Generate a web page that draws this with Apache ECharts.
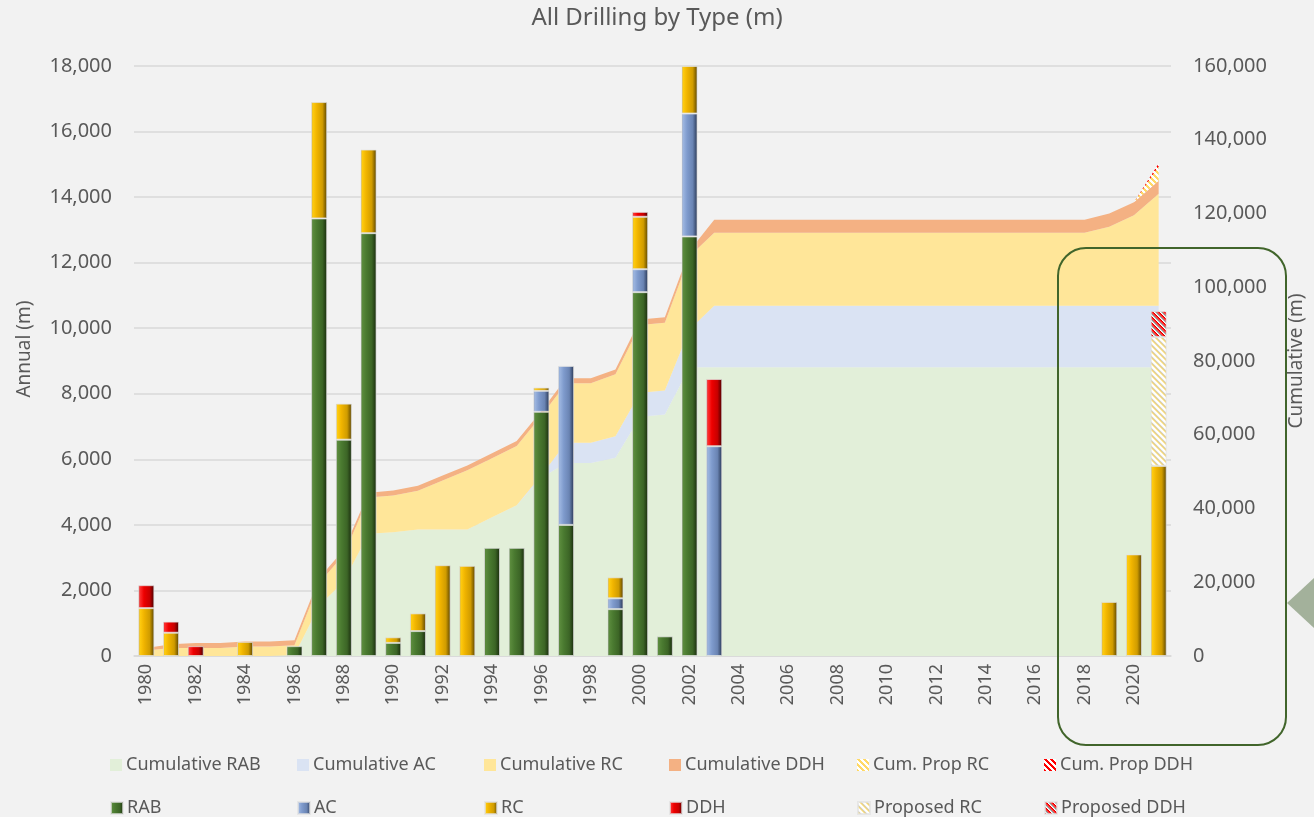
<!DOCTYPE html>
<html>
<head>
<meta charset="utf-8">
<title>All Drilling by Type</title>
<script src="https://cdn.jsdelivr.net/npm/echarts@6/dist/echarts.min.js"></script>
<style>
html, body { margin: 0; padding: 0; background: #f2f2f2; }
#chart { width: 1314px; height: 817px; }
</style>
</head>
<body>
<div id="chart"></div>
<script>
var years = ['1980','1981','1982','1983','1984','1985','1986','1987','1988','1989',
  '1990','1991','1992','1993','1994','1995','1996','1997','1998','1999',
  '2000','2001','2002','2003','2004','2005','2006','2007','2008','2009',
  '2010','2011','2012','2013','2014','2015','2016','2017','2018','2019',
  '2020','2021'];

// annual metres (left axis)
var rab = [0,0,0,0,0,0,300,13350,6600,12900, 400,760,0,0,3300,3300,7450,4000,0,1430,
  11100,600,12800,0,0,0,0,0,0,0, 0,0,0,0,0,0,0,0,0,0, 0,0];
var ac = [0,0,0,0,0,0,0,0,0,0, 0,0,0,0,0,0,640,4850,0,330,
  700,0,3750,6400,0,0,0,0,0,0, 0,0,0,0,0,0,0,0,0,0, 0,0];
var rc = [1460,710,0,0,430,0,0,3550,1100,2550, 170,540,2770,2750,0,0,100,0,0,640,
  1600,0,1450,0,0,0,0,0,0,0, 0,0,0,0,0,0,0,0,0,1650, 3100,5800];
var ddh = [700,340,300,0,0,0,0,0,0,0, 0,0,0,0,0,0,0,0,0,0,
  150,0,0,2050,0,0,0,0,0,0, 0,0,0,0,0,0,0,0,0,0, 0,0];
var propRC = [0,0,0,0,0,0,0,0,0,0, 0,0,0,0,0,0,0,0,0,0,
  0,0,0,0,0,0,0,0,0,0, 0,0,0,0,0,0,0,0,0,0, 0,3930];
var propDDH = [0,0,0,0,0,0,0,0,0,0, 0,0,0,0,0,0,0,0,0,0,
  0,0,0,0,0,0,0,0,0,0, 0,0,0,0,0,0,0,0,0,0, 0,790];

// cumulative metres (right axis)
var cumRAB = [0,0,0,0,0,0,300,13650,20250,33150, 33550,34310,34310,34310,37610,40910,48360,52360,52360,53790,
  64890,65490,78290,78290,78290,78290,78290,78290,78290,78290, 78290,78290,78290,78290,78290,78290,78290,78290,78290,78290, 78290,78290];
var cumAC = [0,0,0,0,0,0,0,0,0,0, 0,0,0,0,0,0,640,5490,5490,5820,
  6520,6520,10270,16670,16670,16670,16670,16670,16670,16670, 16670,16670,16670,16670,16670,16670,16670,16670,16670,16670, 16670,16670];
var cumRC = [1460,2170,2170,2170,2600,2600,2600,6150,7250,9800, 9970,10510,13280,16030,16030,16030,16130,16130,16130,16770,
  18370,18370,19820,19820,19820,19820,19820,19820,19820,19820, 19820,19820,19820,19820,19820,19820,19820,19820,19820,21470, 24570,30370];
var cumDDH = [700,1040,1340,1340,1340,1340,1340,1340,1340,1340, 1340,1340,1340,1340,1340,1340,1340,1340,1340,1340,
  1490,1490,1490,3540,3540,3540,3540,3540,3540,3540, 3540,3540,3540,3540,3540,3540,3540,3540,3540,3540, 3540,3540];
var cumPropRC = [null,null,null,null,null,null,null,null,null,null, null,null,null,null,null,null,null,null,null,null,
  null,null,null,null,null,null,null,null,null,null, null,null,null,null,null,null,null,null,null,null, 0,3930];
var cumPropDDH = [null,null,null,null,null,null,null,null,null,null, null,null,null,null,null,null,null,null,null,null,
  null,null,null,null,null,null,null,null,null,null, null,null,null,null,null,null,null,null,null,null, 0,790];

var FONT = 'Noto Sans';
var GREY = '#595959';

function bevel(c) {
  return new echarts.graphic.LinearGradient(0, 0, 1, 0, [
    { offset: 0, color: c[0] }, { offset: 0.1, color: c[1] }, { offset: 0.35, color: c[2] },
    { offset: 0.7, color: c[3] }, { offset: 0.9, color: c[4] }, { offset: 1, color: c[5] }
  ]);
}

// diagonal hatch tile, one colour per diagonal offset
function hatch(cols) {
  var n = cols.length;
  var cv = document.createElement('canvas');
  cv.width = n; cv.height = n;
  var ctx = cv.getContext('2d');
  for (var x = 0; x < n; x++) {
    for (var y = 0; y < n; y++) {
      ctx.fillStyle = cols[((x - y) % n + n) % n];
      ctx.fillRect(x, y, 1, 1);
    }
  }
  return { image: cv, repeat: 'repeat' };
}

function nz(a) { return a.map(function (v) { return v || null; }); }

var barW = 16;
var barBorder = 'rgba(225,225,225,0.7)';

function areaSeries(name, data, color) {
  return {
    name: name, type: 'line', yAxisIndex: 1, stack: 'cum', data: data,
    symbol: 'none', lineStyle: { width: 0 }, itemStyle: { color: color },
    areaStyle: { color: color, opacity: 1 }, z: 1, silent: true
  };
}

function barSeries(name, data, color) {
  return {
    name: name, type: 'bar', yAxisIndex: 0, stack: 'annual', data: nz(data),
    barWidth: barW, itemStyle: { color: color, borderColor: barBorder, borderWidth: 1 }, z: 3
  };
}

// legend grid: [name, left, top]
var legendItems = [
  ['Cumulative RAB', 110, 749], ['Cumulative AC', 297, 749], ['Cumulative RC', 484, 749],
  ['Cumulative DDH', 669, 749], ['Cum. Prop RC', 857, 749], ['Cum. Prop DDH', 1044, 749],
  ['RAB', 110, 792], ['AC', 297, 792], ['RC', 484, 792],
  ['DDH', 669, 792], ['Proposed RC', 857, 792], ['Proposed DDH', 1044, 792]
];

var chart = echarts.init(document.getElementById('chart'));

chart.setOption({
  backgroundColor: '#f2f2f2',
  animation: false,
  textStyle: { fontFamily: FONT },
  title: {
    text: 'All Drilling by Type (m)', left: 'center', top: 1,
    textStyle: { fontFamily: FONT, fontSize: 24, fontWeight: 'normal', color: GREY }
  },
  legend: legendItems.map(function (c) {
    return {
      data: [c[0]], left: c[1] - 5, top: c[2],
      icon: 'rect', itemWidth: 12, itemHeight: 12, itemGap: 0,
      selectedMode: false,
      textStyle: { fontFamily: FONT, fontSize: 18, color: GREY, lineHeight: 22, padding: [0, 0, 0, -1] }
    };
  }),
  grid: { left: 134, right: 138, top: 66, bottom: 161, containLabel: false },
  xAxis: {
    type: 'category', data: years,
    axisLine: { lineStyle: { color: '#d9d9d9', width: 1.5 } },
    axisTick: { show: false },
    axisLabel: { interval: 1, rotate: 90, margin: 8, fontFamily: FONT, fontSize: 18, color: GREY }
  },
  yAxis: [{
    type: 'value', min: 0, max: 18000, interval: 2000,
    name: 'Annual (m)', nameLocation: 'middle', nameGap: 100, nameRotate: 90,
    nameTextStyle: { fontFamily: FONT, fontSize: 19, color: GREY, padding: [0, 0, 0, 24] },
    axisLine: { show: false }, axisTick: { show: false },
    splitLine: { lineStyle: { color: '#d9d9d9', width: 1.5 } },
    axisLabel: {
      margin: 22, fontFamily: FONT, fontSize: 20, color: GREY,
      formatter: function (v) { return v.toLocaleString('en-US'); }
    }
  }, {
    type: 'value', min: 0, max: 160000, interval: 20000,
    name: 'Cumulative (m)', nameLocation: 'middle', nameGap: 116, nameRotate: 90,
    nameTextStyle: { fontFamily: FONT, fontSize: 19, color: GREY },
    axisLine: { show: false }, axisTick: { show: false }, splitLine: { show: false },
    axisLabel: {
      margin: 22, fontFamily: FONT, fontSize: 20, color: GREY,
      formatter: function (v) { return v.toLocaleString('en-US'); }
    }
  }],
  series: [
    areaSeries('Cumulative RAB', cumRAB, '#e2efd9'),
    areaSeries('Cumulative AC', cumAC, '#dae3f3'),
    areaSeries('Cumulative RC', cumRC, '#ffe699'),
    areaSeries('Cumulative DDH', cumDDH, '#f4b183'),
    areaSeries('Cum. Prop RC', cumPropRC, hatch(['#ffd966','#ffd966','#ffd966','#ffffff','#ffffff','#ffffff'])),
    areaSeries('Cum. Prop DDH', cumPropDDH, hatch(['#ff0000','#ff0000','#ff0000','#ffffff','#ffffff','#ffffff'])),
    barSeries('RAB', rab, bevel(['#35591f','#5b8b3d','#4a7a30','#3c6526','#243d15','#17270d'])),
    barSeries('AC', ac, bevel(['#5a76a6','#9db6e0','#7f9bcd','#6a84b3','#3d4f72','#232e44'])),
    barSeries('RC', rc, bevel(['#b88c00','#ffcc10','#f0b400','#d09c00','#806000','#4a3800'])),
    barSeries('DDH', ddh, bevel(['#b00000','#ff3030','#ee0000','#c80000','#700000','#400000'])),
    barSeries('Proposed RC', propRC, hatch(['#ffffff','#fbe9a6','#f2d57a','#d6cfb8','#f4f4f4','#ffffff'])),
    barSeries('Proposed DDH', propDDH, hatch(['#ff1a1a','#e00000','#ffffff','#d0d0d0','#8a8a8a','#ff4d4d']))
  ],
  graphic: [{
    type: 'rect', z: 100, silent: true,
    shape: { x: 1058, y: 248, width: 228, height: 497, r: 28 },
    style: { fill: null, stroke: '#41652b', lineWidth: 2 }
  }, {
    type: 'polygon', z: 100, silent: true,
    shape: { points: [[1287, 603], [1340, 554], [1340, 652]] },
    style: { fill: '#a3b19b' }
  }]
});
</script>
</body>
</html>
